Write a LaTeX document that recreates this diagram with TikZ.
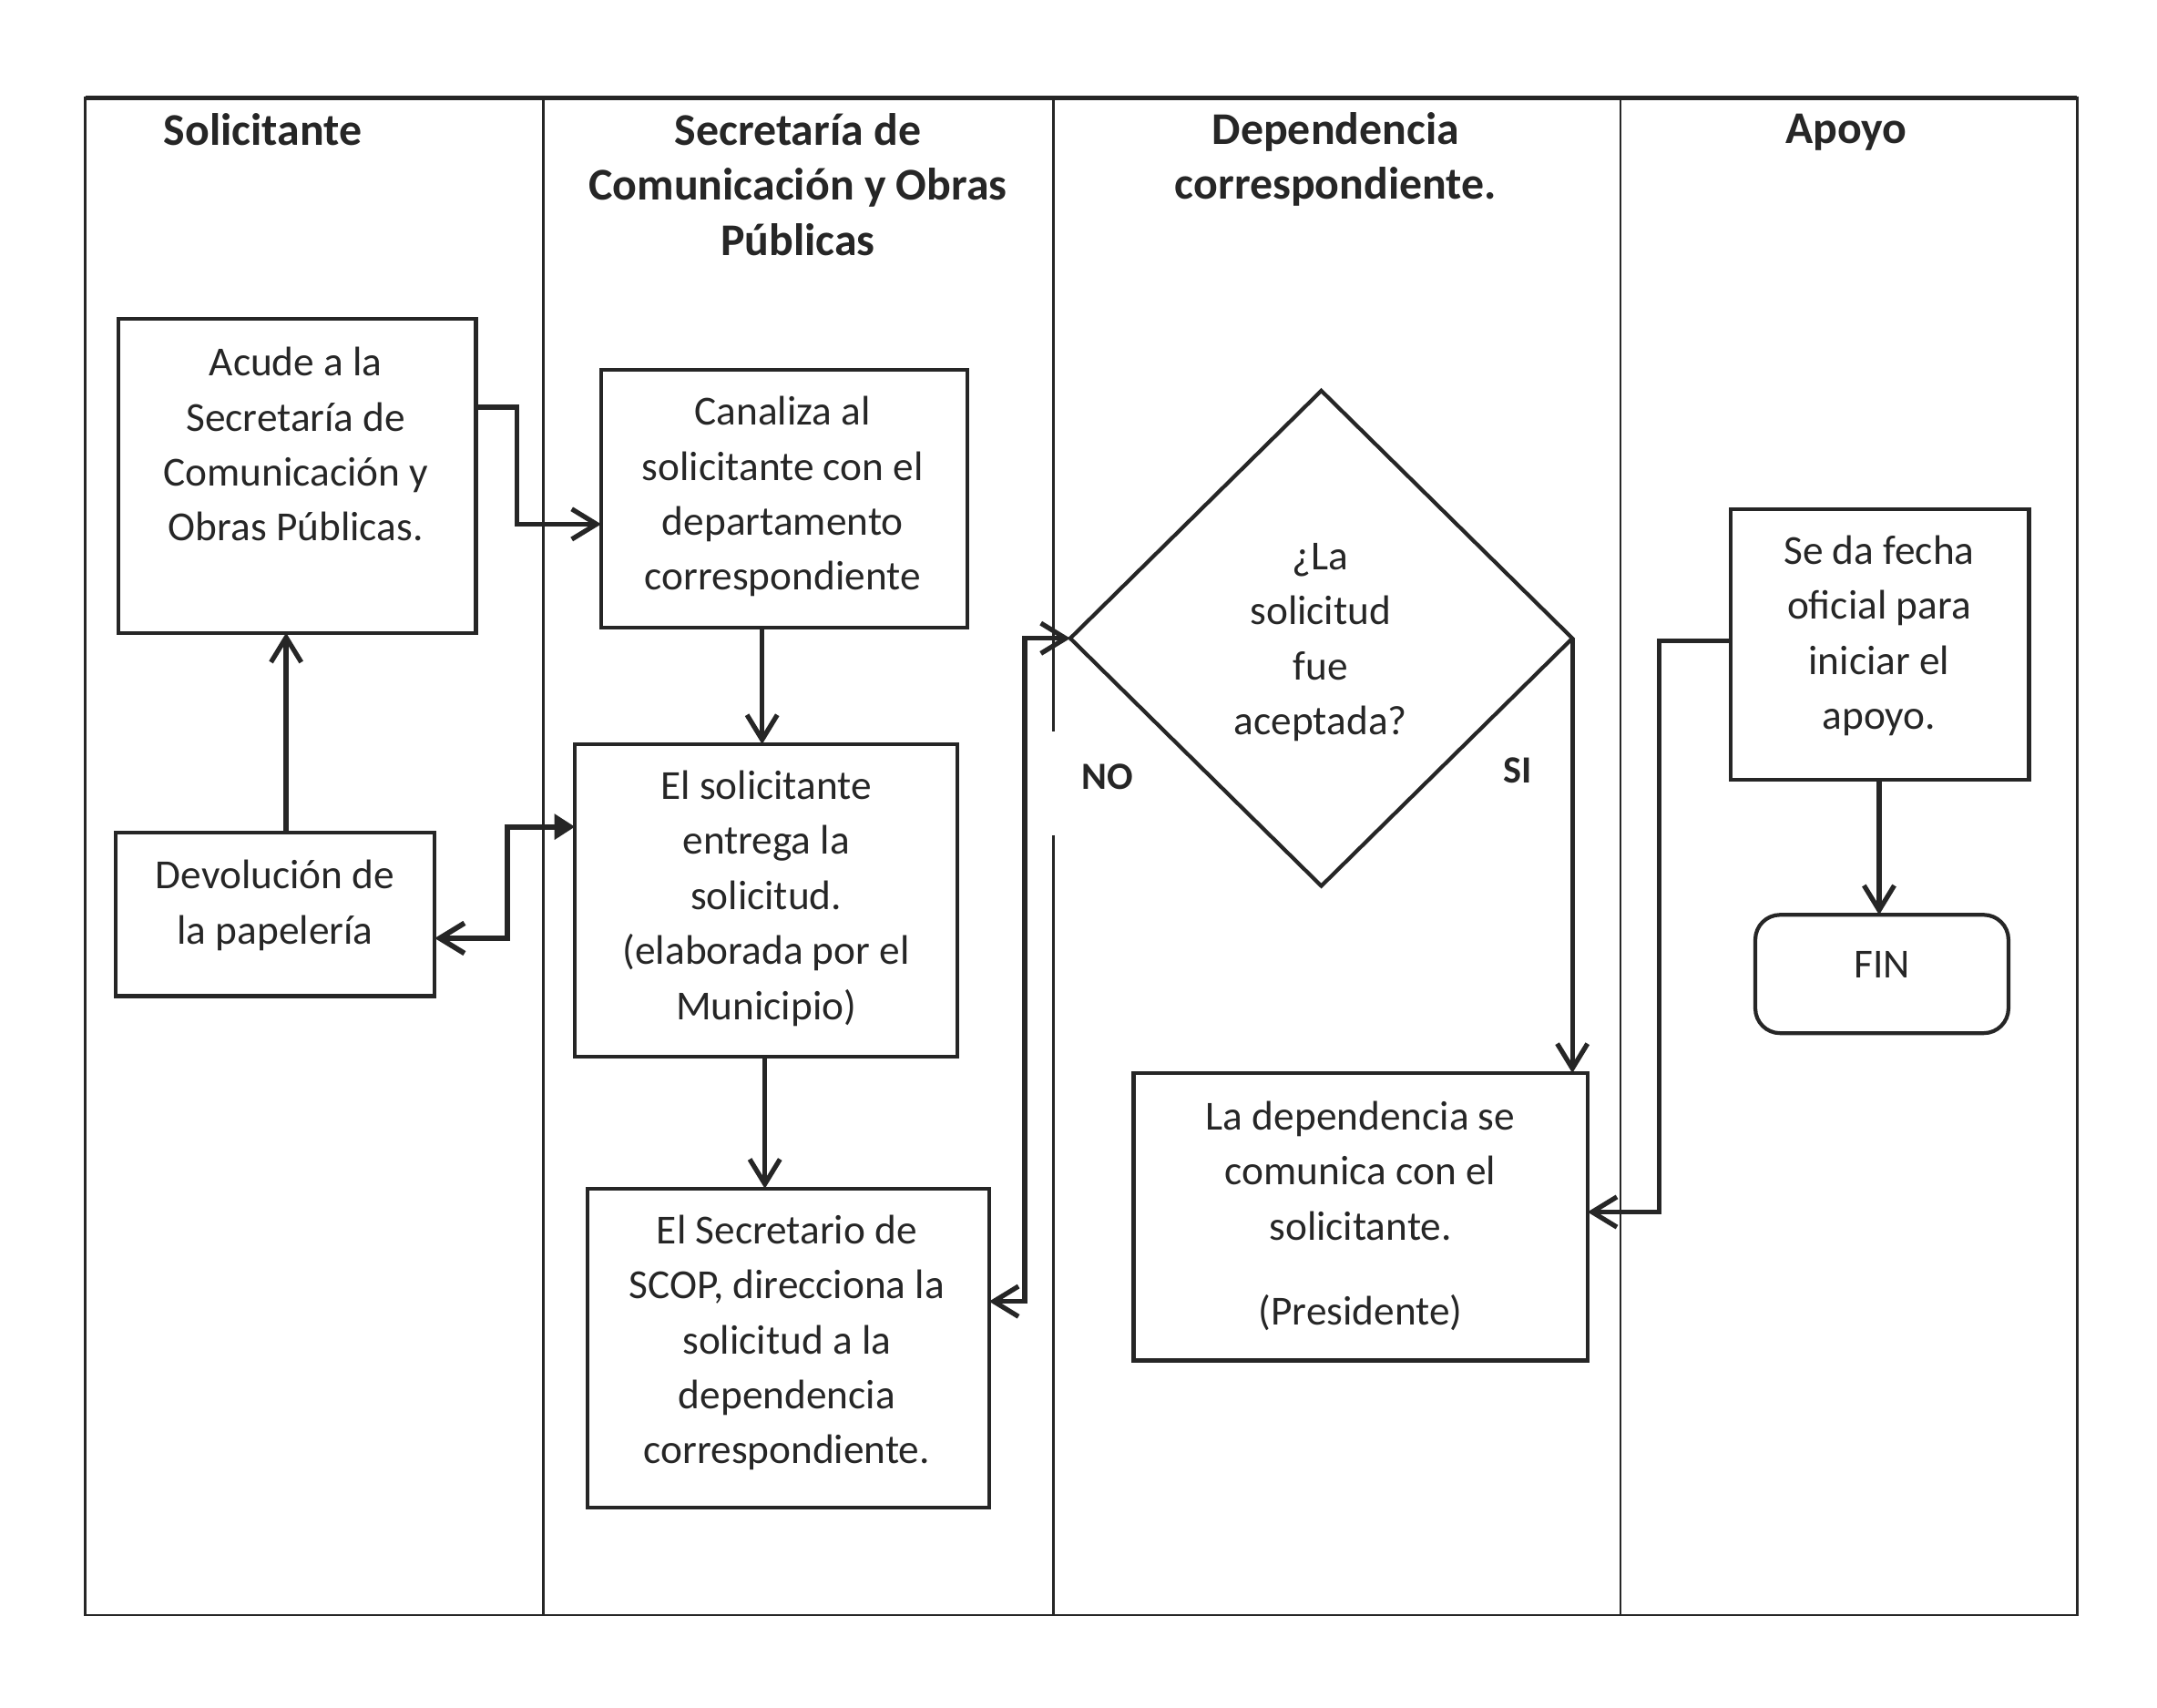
\documentclass[tikz,border=0pt]{standalone}
\usepackage{fontspec}
\setmainfont{Carlito}
\usetikzlibrary{arrows.meta,shapes.geometric}
\definecolor{ink}{RGB}{38,38,38}
\begin{document}
\begin{tikzpicture}[x=1pt,y=-1pt,
  box/.style={draw=ink, line width=2.8pt, inner sep=0pt, outer sep=0pt},
  txt/.style={text=ink, font=\fontsize{30}{40}\selectfont, align=center, inner sep=0pt},
  hdr/.style={text=ink, font=\fontsize{33}{40}\selectfont\bfseries, align=center, inner sep=0pt},
  lbl/.style={text=ink, font=\fontsize{28}{34}\selectfont\bfseries, inner sep=0pt},
  lane/.style={draw=ink, line width=1.8pt},
  arr/.style={draw=ink, line width=3.5pt, -{Straight Barb[length=18pt,width=22pt]}},
  arrboth/.style={draw=ink, line width=3.5pt, {Straight Barb[length=18pt,width=22pt]}-{Straight Barb[length=18pt,width=22pt]}},
  arrmix/.style={draw=ink, line width=3.8pt, {Straight Barb[length=18pt,width=22pt]}-{Triangle[length=15pt,width=18pt]}}
]
\useasboundingbox (0,0) rectangle (1568,1241);
% frame and lanes
\coordinate (fTL) at (62,71);
\coordinate (fBR) at (1510,1174);
\draw[lane] (fTL) rectangle (fBR);
\draw[draw=ink, line width=3.6pt] (62,71) -- (1510,71);
\coordinate (l1t) at (395,71); \coordinate (l1b) at (395,1174);
\coordinate (l2t) at (766,71); \coordinate (l2m) at (766,532);
\coordinate (l2n) at (766,607); \coordinate (l2b) at (766,1174);
\coordinate (l3t) at (1178,71); \coordinate (l3b) at (1178,1174);
\draw[lane] (l1t) -- (l1b);
\draw[lane] (l2t) -- (l2m);
\draw[lane] (l2n) -- (l2b);
\draw[lane] (l3t) -- (l3b);
% headers
\node[hdr] (h1) at (191,94) {Solicitante};
\node[hdr] (h2) at (580,134) {Secretaría de\\Comunicación y Obras\\Públicas};
\node[hdr] (h3) at (971,116) {Dependencia\\correspondiente.};
\node[hdr] (h4) at (1342,96) {Apoyo};
% boxes
\node[box, minimum width=260pt, minimum height=228pt] (acude) at (216,346) {};
\node[txt] (acudeT) at (215,323) {Acude a la\\Secretaría de\\Comunicación y\\Obras Públicas.};
\node[box, minimum width=266pt, minimum height=187pt] (canaliza) at (570,362.5) {};
\node[txt] (canalizaT) at (569,361) {Canaliza al\\solicitante con el\\departamento\\correspondiente};
\node[box, minimum width=278pt, minimum height=227pt] (entrega) at (557,654.5) {};
\node[txt] (entregaT) at (557,653) {El solicitante\\entrega la\\solicitud.\\(elaborada por el\\Municipio)};
\node[box, minimum width=292pt, minimum height=232pt] (secretario) at (573,980) {};
\node[txt] (secretarioT) at (572,976) {El Secretario de\\SCOP, direcciona la\\solicitud a la\\dependencia\\correspondiente.};
\node[box, minimum width=232pt, minimum height=119pt] (devol) at (200,664.5) {};
\node[txt] (devolT) at (200,658) {Devolución de\\la papelería};
\node[box, shape=diamond, minimum width=365pt, minimum height=360pt] (diamond) at (960.5,464) {};
\node[txt] (diamondT) at (960,467) {¿La\\solicitud\\fue\\aceptada?};
\node[box, minimum width=330pt, minimum height=209pt] (dep) at (989,884.5) {};
\node[txt] (depT) at (989,884) {La dependencia se\\comunica con el\\solicitante.\\[22pt](Presidente)};
\node[box, minimum width=217pt, minimum height=197pt] (fecha) at (1366.5,468.5) {};
\node[txt] (fechaT) at (1366,462) {Se da fecha\\oficial para\\iniciar el\\apoyo.};
\node[box, rounded corners=18pt, minimum width=184pt, minimum height=86pt] (fin) at (1368,708) {};
\node[txt] (finT) at (1368,701) {FIN};
% labels
\node[lbl] (no) at (805,565) {NO};
\node[lbl] (si) at (1103,560) {SI};
% connectors
\draw[arr] ([yshift=50pt]acude.east) -- ++(30,0) |- ([yshift=-18.5pt]canaliza.west);
\draw[arr] ([xshift=-16pt]canaliza.south) -- ([xshift=-16pt]canaliza.south |- entrega.north);
\draw[arr] ([xshift=-1pt]entrega.south) -- ([xshift=-1pt]entrega.south |- secretario.north);
\draw[arrboth] ([yshift=34pt]secretario.east) -- ++(26,0) |- (diamond.west);
\draw[arrmix] ([yshift=-17.5pt]devol.east) -- ++(53,0) |- ([yshift=53.5pt]entrega.west);
\draw[arr] ([xshift=8pt]devol.north) -- ([xshift=8pt]devol.north |- acude.south);
\draw[arr] (diamond.east) -- (diamond.east |- dep.north);
\draw[arr] ([yshift=2.5pt]fecha.west) -- ++(-52,0) |- ([yshift=3.5pt]dep.east);
\draw[arr] ([xshift=-0.5pt]fecha.south) -- ([xshift=-0.5pt]fecha.south |- fin.north);
\end{tikzpicture}
\end{document}
